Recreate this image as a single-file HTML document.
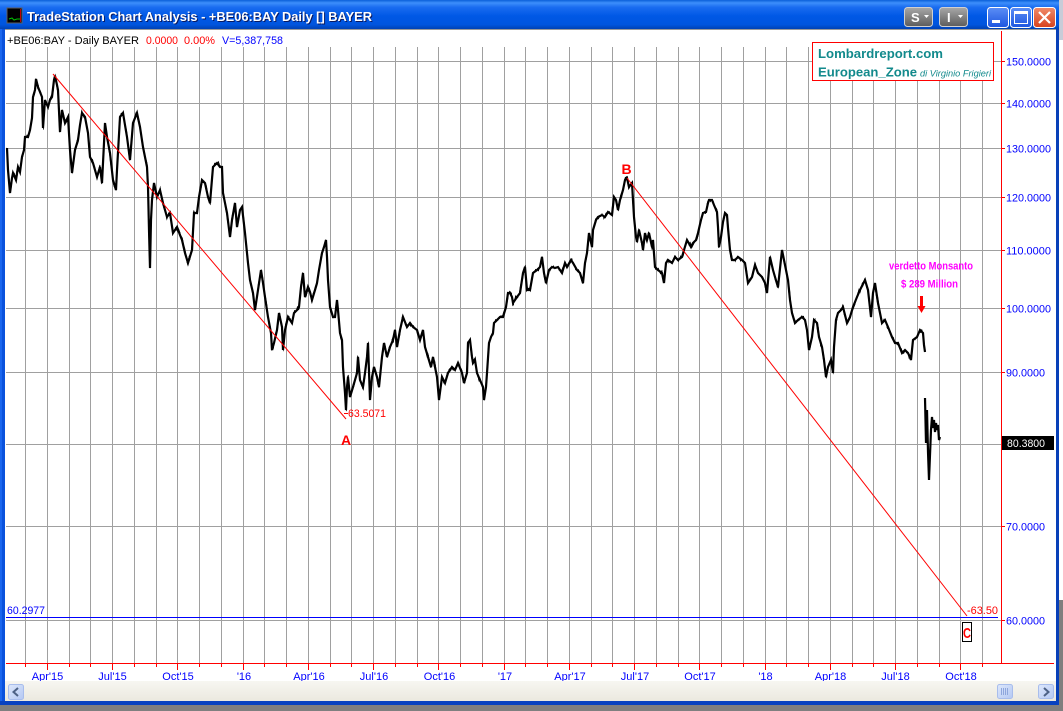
<!DOCTYPE html>
<html><head><meta charset="utf-8">
<style>
html,body{margin:0;padding:0;}
body{width:1063px;height:711px;overflow:hidden;background:#7f7f7f;position:relative;font-family:"Liberation Sans",Arial,sans-serif;}
svg{position:absolute;left:0;top:0;display:block;}
</style></head><body>
<svg width="1063" height="711" viewBox="0 0 1063 711" xmlns="http://www.w3.org/2000/svg" font-family="Liberation Sans, Arial, sans-serif">
<defs>
<linearGradient id="tb" x1="0" y1="0" x2="0" y2="1">
 <stop offset="0" stop-color="#0a5fd9"/>
 <stop offset="0.1" stop-color="#3d8ffb"/>
 <stop offset="0.25" stop-color="#1a6cf0"/>
 <stop offset="0.55" stop-color="#0058e6"/>
 <stop offset="0.85" stop-color="#0055de"/>
 <stop offset="1" stop-color="#0042b4"/>
</linearGradient>
<linearGradient id="gb" x1="0" y1="0" x2="0" y2="1">
 <stop offset="0" stop-color="#a8a8a8"/>
 <stop offset="1" stop-color="#5c5c5c"/>
</linearGradient>
<linearGradient id="bb" x1="0" y1="0" x2="0" y2="1">
 <stop offset="0" stop-color="#5b8ef5"/>
 <stop offset="1" stop-color="#1d55e0"/>
</linearGradient>
<linearGradient id="rb" x1="0" y1="0" x2="0" y2="1">
 <stop offset="0" stop-color="#f08a6a"/>
 <stop offset="1" stop-color="#d8421c"/>
</linearGradient>
<linearGradient id="sb" x1="0" y1="0" x2="0" y2="1">
 <stop offset="0" stop-color="#f7f6f1"/>
 <stop offset="1" stop-color="#ebe9df"/>
</linearGradient>
<linearGradient id="btn" x1="0" y1="0" x2="1" y2="1">
 <stop offset="0" stop-color="#dde7fb"/>
 <stop offset="1" stop-color="#b4c8f3"/>
</linearGradient>
<filter id="jit" filterUnits="userSpaceOnUse" x="0" y="0" width="1063" height="711">
 <feTurbulence type="fractalNoise" baseFrequency="0.6 0.015" numOctaves="1" seed="7" result="n"/>
 <feColorMatrix in="n" type="matrix" values="0 0 0 0 0.5  0 1 0 0 0  0 0 0 0 0  0 0 0 0 1" result="m"/>
 <feDisplacementMap in="SourceGraphic" in2="m" scale="9" xChannelSelector="R" yChannelSelector="G"/>
</filter>
<polyline id="ser" fill="none" points="
7,148 8,170 10,193 12,178 13,173 16,180 18,167 20,172 22,157 24,150 25,137 28,137 30,130 32,118 33,97 35,90 36,79 38,87 40,92 42,97 43,128 45,100 48,107 50,100 52,97 54,80 55,76 57,85 58,90 60,132 62,110 65,123 68,117 70,150 72,173 75,150 78,140 80,125 82,113 85,117 88,133 90,157 93,163 97,177 100,167 102,183 105,123 107,137 110,153 113,180 116,190 117,170 120,117 123,113 125,125 127,137 130,160 133,123 137,113 140,127 143,147 147,167 148,187 149,230 150,268 151,220 152,200 154,183 157,197 160,190 163,203 167,217 170,213 173,233 177,227 180,235 182,240 185,253 188,263 192,250 194,213 197,213 199,197 202,180 205,183 208,197 210,203 213,167 217,163 220,167 222,167 223,193 227,213 230,237 232,220 235,203 237,227 240,210 242,207 245,233 247,253 248,263 250,280 253,293 255,310 258,290 261,270 263,283 265,297 268,317 271,333 272,350 274,343 277,330 279,313 282,327 283,350 285,330 288,317 292,323 294,313 297,310 299,307 301,287 303,273 305,297 308,287 310,292 312,300 315,290 317,283 319,270 322,253 324,247 326,240 327,257 328,280 330,307 333,317 335,317 337,300 338,310 340,333 342,340 343,367 345,393 346,410 347,387 348,377 350,397 353,387 357,373 358,357 360,380 363,387 365,373 367,357 368,343 370,400 372,377 374,367 377,377 379,387 382,357 384,343 387,357 390,347 393,340 395,330 397,347 400,330 403,317 407,327 410,323 413,327 417,330 420,340 423,330 425,347 428,357 431,367 433,357 437,377 439,400 442,377 445,383 448,373 452,367 455,370 458,363 462,373 464,383 467,373 468,343 470,340 472,357 473,363 475,360 477,373 480,380 483,387 484,400 486,387 487,373 489,343 491,337 493,333 494,323 497,320 500,317 503,317 506,307 508,293 510,293 512,297 513,303 517,297 520,293 523,273 525,267 527,290 530,290 533,273 537,270 540,267 542,257 544,273 546,283 549,270 552,267 555,268 558,267 562,273 565,263 567,267 571,260 573,263 577,270 580,273 583,283 585,263 587,253 589,233 592,247 593,230 596,220 598,217 602,215 605,217 608,212 612,215 614,197 616,200 618,210 620,200 623,190 625,180 627,178 629,187 632,183 633,200 634,217 636,237 637,242 639,230 642,243 643,250 645,233 647,240 649,233 652,247 653,240 655,267 658,270 662,273 664,283 666,263 668,260 672,263 675,257 678,260 682,257 684,250 687,240 691,247 693,243 696,240 698,233 701,220 703,213 706,212 708,203 709,200 712,200 714,205 717,212 718,227 719,247 721,237 723,222 725,213 727,215 728,228 730,250 732,260 735,260 738,257 742,260 745,263 748,283 752,277 755,265 758,273 762,277 765,283 767,293 770,257 773,270 775,277 778,287 782,250 784,260 786,270 788,280 790,300 792,313 795,323 798,320 802,317 805,320 807,330 809,350 812,337 814,320 817,323 819,337 822,347 824,360 826,377 828,367 831,360 833,373 834,347 836,320 838,313 841,310 843,307 847,323 850,317 853,307 857,297 860,290 865,280 868,290 871,317 873,293 875,283 878,303 882,323 885,320 888,327 892,337 895,343 898,343 902,353 905,350 908,353 911,360 913,340 917,337 920,330 923,333 924,345 925,352"/>
<polyline id="ser2" fill="none" points="925,398 926,443 927,410 928,452 929,480 930,455 931,430 932,417 933,428 934,420 935,432 936,423 937,430 938,425 939,440 940,437"/>
</defs>

<!-- outer background strips -->
<rect x="1059" y="0" width="4" height="40" fill="#c8ccd8"/>
<rect x="1059" y="40" width="4" height="560" fill="#ffffff"/>

<!-- window frame -->
<rect x="0" y="0" width="1059" height="705" fill="#0a52dd"/>
<rect x="0" y="0" width="1059" height="29" fill="url(#tb)"/>
<rect x="1056" y="29" width="3" height="676" fill="#0840b8"/>
<rect x="0" y="29" width="2" height="676" fill="#1a66ee"/>
<rect x="0" y="701" width="1059" height="4" fill="#0842c0"/>

<!-- title icon -->
<rect x="7" y="8" width="15" height="15" fill="#000"/>
<rect x="7" y="8" width="15" height="15" fill="none" stroke="#606060" stroke-width="1"/>
<polyline points="9,19 12,18 14,20 17,19 20,19" fill="none" stroke="#00c000" stroke-width="1"/>
<rect x="20" y="9" width="1" height="13" fill="#c00000"/>

<!-- title text -->
<text x="28" y="22" font-size="13" font-weight="bold" fill="#0a1a60" textLength="345" lengthAdjust="spacingAndGlyphs">TradeStation Chart Analysis - +BE06:BAY Daily [] BAYER</text>
<text x="27" y="21" font-size="13" font-weight="bold" fill="#ffffff" textLength="345" lengthAdjust="spacingAndGlyphs">TradeStation Chart Analysis - +BE06:BAY Daily [] BAYER</text>

<!-- title buttons -->
<rect x="904.5" y="7.5" width="28" height="19" rx="3" fill="url(#gb)" stroke="#d0d0d0"/>
<text x="911" y="22" font-size="13" font-weight="bold" fill="#fff">S</text>
<polygon points="924,15 929,15 926.5,18" fill="#fff"/>
<rect x="939.5" y="7.5" width="28" height="19" rx="3" fill="url(#gb)" stroke="#d0d0d0"/>
<text x="947" y="22" font-size="13" font-weight="bold" fill="#fff">I</text>
<polygon points="958,15 963,15 960.5,18" fill="#fff"/>

<rect x="987.5" y="7.5" width="21" height="20" rx="3" fill="url(#bb)" stroke="#fff"/>
<rect x="992" y="20" width="8" height="3" fill="#fff"/>
<rect x="1010.5" y="7.5" width="21" height="20" rx="3" fill="url(#bb)" stroke="#fff"/>
<rect x="1014.5" y="11.5" width="13" height="12" fill="none" stroke="#fff"/>
<rect x="1014" y="11" width="14" height="3" fill="#fff"/>
<rect x="1033.5" y="7.5" width="22" height="20" rx="3" fill="url(#rb)" stroke="#fff"/>
<path d="M1039 12 L1050 23 M1050 12 L1039 23" stroke="#fff" stroke-width="2.2"/>

<!-- content area -->
<rect x="5" y="29" width="1051" height="652" fill="#ffffff"/>
<rect x="5" y="29" width="1051" height="1" fill="#9a9a9a"/>

<!-- horizontal gridlines -->
<g stroke="#a0a0a0" stroke-width="1">
<line x1="6" y1="61.5" x2="1001" y2="61.5"/>
<line x1="6" y1="103.5" x2="1001" y2="103.5"/>
<line x1="6" y1="148.5" x2="1001" y2="148.5"/>
<line x1="6" y1="197.5" x2="1001" y2="197.5"/>
<line x1="6" y1="250.5" x2="1001" y2="250.5"/>
<line x1="6" y1="308.5" x2="1001" y2="308.5"/>
<line x1="6" y1="372.5" x2="1001" y2="372.5"/>
<line x1="6" y1="444.5" x2="1001" y2="444.5"/>
<line x1="6" y1="526.5" x2="1001" y2="526.5"/>
<line x1="6" y1="620.5" x2="1001" y2="620.5"/>
</g>

<!-- vertical gridlines -->
<path stroke="#a0a0a0" stroke-width="1" fill="none" d="
M25.5 47V663 M47.5 47V663 M69.5 47V663 M90.5 47V663 M112.5 47V663 M134.5 47V663 M156.5 47V663 M177.5 47V663 M199.5 47V663 M221.5 47V663
M243.5 47V663 M264.5 47V663 M286.5 47V663 M308.5 47V663 M330.5 47V663 M351.5 47V663 M373.5 47V663 M395.5 47V663 M417.5 47V663 M438.5 47V663
M460.5 47V663 M482.5 47V663 M504.5 47V663 M525.5 47V663 M547.5 47V663 M569.5 47V663 M591.5 47V663 M612.5 47V663 M634.5 47V663 M656.5 47V663
M678.5 47V663 M699.5 47V663 M721.5 47V663 M743.5 47V663 M765.5 47V663 M786.5 47V663 M808.5 47V663 M830.5 47V663 M852.5 47V663 M873.5 47V663
M895.5 47V663 M917.5 47V663 M939.5 47V663 M960.5 47V663 M982.5 47V663"/>

<!-- blue horizontal line at 60.2977 -->
<line x1="6" y1="617.5" x2="998" y2="617.5" stroke="#0000ff" stroke-width="1"/>
<text x="7" y="614" font-size="11" fill="#0000ff" textLength="38" lengthAdjust="spacingAndGlyphs">60.2977</text>

<!-- header text -->
<text x="7" y="44" font-size="11" fill="#000" textLength="132" lengthAdjust="spacingAndGlyphs">+BE06:BAY - Daily  BAYER</text>
<text x="146" y="44" font-size="11" fill="#ff0000" textLength="32" lengthAdjust="spacingAndGlyphs">0.0000</text>
<text x="184" y="44" font-size="11" fill="#ff0000" textLength="31" lengthAdjust="spacingAndGlyphs">0.00%</text>
<text x="222" y="44" font-size="11" fill="#0000ff" textLength="61" lengthAdjust="spacingAndGlyphs">V=5,387,758</text>

<!-- price series -->
<use href="#ser" stroke="#000" stroke-width="2.2"/>
<use href="#ser2" stroke="#000" stroke-width="2.2"/>
<g filter="url(#jit)">
<use href="#ser" stroke="#000" stroke-width="1.4"/>
</g>

<!-- trendlines -->
<line x1="53" y1="74" x2="346" y2="419" stroke="#ff0000" stroke-width="1"/>
<line x1="627" y1="178" x2="967" y2="616" stroke="#ff0000" stroke-width="1"/>

<!-- A / B / C labels -->
<line x1="344" y1="413.5" x2="348" y2="413.5" stroke="#ff0000"/>
<text x="348" y="417" font-size="11" fill="#ff0000" textLength="38" lengthAdjust="spacingAndGlyphs">63.5071</text>
<text x="346" y="445" font-size="14" font-weight="bold" fill="#ff0000" text-anchor="middle">A</text>
<text x="626.5" y="174" font-size="14" font-weight="bold" fill="#ff0000" text-anchor="middle">B</text>
<text x="967" y="614" font-size="11" fill="#ff0000" textLength="31" lengthAdjust="spacingAndGlyphs">-63.50</text>
<rect x="962.5" y="622.5" width="9" height="19" fill="#fff" stroke="#000" stroke-width="1"/>
<text x="967" y="638" font-size="15" font-weight="bold" fill="#ff0000" text-anchor="middle" textLength="8" lengthAdjust="spacingAndGlyphs">C</text>

<!-- Monsanto annotation -->
<text x="889" y="269.5" font-size="11" font-weight="bold" fill="#ff00ff" textLength="84" lengthAdjust="spacingAndGlyphs">verdetto Monsanto</text>
<text x="901" y="287.5" font-size="11" font-weight="bold" fill="#ff00ff" textLength="57" lengthAdjust="spacingAndGlyphs">$ 289 Million</text>
<rect x="920" y="296" width="3" height="11" fill="#ff0000"/>
<polygon points="917.5,306 925.5,306 921.5,313" fill="#ff0000"/>

<!-- legend box -->
<rect x="812.5" y="42.5" width="181" height="38" fill="#ffffff" stroke="#ff0000" stroke-width="1"/>
<text x="818" y="58" font-size="12.5" font-weight="bold" fill="#128a8c" textLength="125" lengthAdjust="spacingAndGlyphs">Lombardreport.com</text>
<text x="818" y="76.5" font-size="12.5" font-weight="bold" fill="#128a8c" textLength="99" lengthAdjust="spacingAndGlyphs">European_Zone</text>
<text x="920" y="76.5" font-size="9" font-style="italic" fill="#128a8c" textLength="71" lengthAdjust="spacingAndGlyphs">di Virginio Frigieri</text>

<!-- right axis -->
<line x1="1001.5" y1="31" x2="1001.5" y2="663" stroke="#ff0000" stroke-width="1"/>
<g stroke="#ff0000" stroke-width="1">
<line x1="1001" y1="61.5" x2="1005" y2="61.5"/>
<line x1="1001" y1="103.5" x2="1005" y2="103.5"/>
<line x1="1001" y1="148.5" x2="1005" y2="148.5"/>
<line x1="1001" y1="197.5" x2="1005" y2="197.5"/>
<line x1="1001" y1="250.5" x2="1005" y2="250.5"/>
<line x1="1001" y1="308.5" x2="1005" y2="308.5"/>
<line x1="1001" y1="372.5" x2="1005" y2="372.5"/>
<line x1="1001" y1="526.5" x2="1005" y2="526.5"/>
<line x1="1001" y1="620.5" x2="1005" y2="620.5"/>
</g>
<g font-size="11" fill="#0000ff">
<text x="1006" y="65.5" textLength="45" lengthAdjust="spacingAndGlyphs">150.0000</text>
<text x="1006" y="107.5" textLength="45" lengthAdjust="spacingAndGlyphs">140.0000</text>
<text x="1006" y="152.5" textLength="45" lengthAdjust="spacingAndGlyphs">130.0000</text>
<text x="1006" y="201.5" textLength="45" lengthAdjust="spacingAndGlyphs">120.0000</text>
<text x="1006" y="254.5" textLength="45" lengthAdjust="spacingAndGlyphs">110.0000</text>
<text x="1006" y="312.5" textLength="45" lengthAdjust="spacingAndGlyphs">100.0000</text>
<text x="1006" y="376.5" textLength="39" lengthAdjust="spacingAndGlyphs">90.0000</text>
<text x="1006" y="530.5" textLength="39" lengthAdjust="spacingAndGlyphs">70.0000</text>
<text x="1006" y="624.5" textLength="39" lengthAdjust="spacingAndGlyphs">60.0000</text>
</g>
<rect x="1002" y="436" width="52" height="14" fill="#000"/>
<text x="1007" y="447" font-size="11" fill="#ffffff" textLength="38" lengthAdjust="spacingAndGlyphs">80.3800</text>

<!-- bottom axis -->
<line x1="6" y1="663.5" x2="1054" y2="663.5" stroke="#ff0000" stroke-width="1"/>
<path stroke="#ff0000" stroke-width="1" fill="none" d="
M25.5 663V667 M47.5 663V670 M69.5 663V667 M90.5 663V667 M112.5 663V670 M134.5 663V667 M156.5 663V667 M177.5 663V670 M199.5 663V667 M221.5 663V667
M243.5 663V670 M264.5 663V667 M286.5 663V667 M308.5 663V670 M330.5 663V667 M351.5 663V667 M373.5 663V670 M395.5 663V667 M417.5 663V667 M438.5 663V670
M460.5 663V667 M482.5 663V667 M504.5 663V670 M525.5 663V667 M547.5 663V667 M569.5 663V670 M591.5 663V667 M612.5 663V667 M634.5 663V670 M656.5 663V667
M678.5 663V667 M699.5 663V670 M721.5 663V667 M743.5 663V667 M765.5 663V670 M786.5 663V667 M808.5 663V667 M830.5 663V670 M852.5 663V667 M873.5 663V667
M895.5 663V670 M917.5 663V667 M939.5 663V667 M960.5 663V670 M982.5 663V667"/>
<g font-size="11" fill="#0000ff" text-anchor="middle">
<text x="47.5" y="680">Apr'15</text>
<text x="112.5" y="680">Jul'15</text>
<text x="178" y="680">Oct'15</text>
<text x="244" y="680">'16</text>
<text x="309" y="680">Apr'16</text>
<text x="374" y="680">Jul'16</text>
<text x="439.5" y="680">Oct'16</text>
<text x="505" y="680">'17</text>
<text x="570" y="680">Apr'17</text>
<text x="635" y="680">Jul'17</text>
<text x="700" y="680">Oct'17</text>
<text x="765.5" y="680">'18</text>
<text x="830.5" y="680">Apr'18</text>
<text x="895.5" y="680">Jul'18</text>
<text x="961" y="680">Oct'18</text>
</g>

<!-- scrollbar -->
<rect x="5" y="681" width="1051" height="20" fill="url(#sb)"/>
<rect x="8.5" y="684.5" width="15" height="15" rx="2" fill="url(#btn)" stroke="#a8bdec"/>
<path d="M18 688 L13.5 692 L18 696" fill="none" stroke="#4d6185" stroke-width="2"/>
<rect x="997.5" y="684.5" width="15" height="14" rx="2" fill="url(#btn)" stroke="#a8bdec"/>
<path d="M1001.5 688V695 M1003.5 688V695 M1005.5 688V695 M1007.5 688V695" stroke="#8ea6dc" stroke-width="1"/>
<rect x="1038.5" y="684.5" width="15" height="14" rx="2" fill="url(#btn)" stroke="#a8bdec"/>
<path d="M1044 688 L1048.5 692 L1044 696" fill="none" stroke="#4d6185" stroke-width="2"/>
</svg>
</body></html>
